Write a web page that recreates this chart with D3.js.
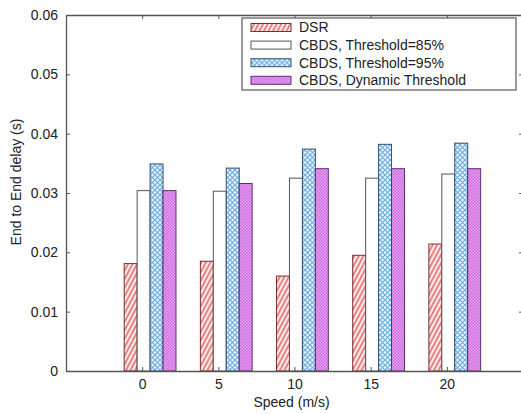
<!DOCTYPE html>
<html>
<head>
<meta charset="utf-8">
<script src="https://cdn.jsdelivr.net/npm/d3@7"></script>
<style>
  body { margin: 0; background: #fff; }
  text { font-family: "Liberation Sans", Arial, sans-serif; fill: #222; }
</style>
</head>
<body>
<div id="chart"></div>
<script>
// DATA
const speeds = [0, 5, 10, 15, 20];
const seriesNames = ["DSR", "CBDS, Threshold=85%", "CBDS, Threshold=95%", "CBDS, Dynamic Threshold"];
const dsr = [0.0181, 0.0185, 0.0160, 0.0195, 0.0214];
const cbds85 = [0.0304, 0.0303, 0.0325, 0.0325, 0.0332];
const cbds95 = [0.0349, 0.0342, 0.0374, 0.0382, 0.0384];
const cbdsDyn = [0.0304, 0.0316, 0.0341, 0.0341, 0.0341];
const yTicks = [0, 0.01, 0.02, 0.03, 0.04, 0.05, 0.06];

const allSeries = [dsr, cbds85, cbds95, cbdsDyn];

const width = 521, height = 414;
const margin = {top: 15, right: -2, bottom: 43, left: 66};

const svg = d3.select("#chart").append("svg")
    .attr("width", width)
    .attr("height", height);

// PATTERNS
const defs = svg.append("defs");

const p1 = defs.append("pattern")
    .attr("id", "hatchRed")
    .attr("patternUnits", "userSpaceOnUse")
    .attr("width", 4).attr("height", 4)
    .attr("patternTransform", "rotate(28)");
p1.append("rect").attr("width", 4).attr("height", 4).attr("fill", "#fdeeee");
p1.append("line").attr("x1", 1).attr("y1", 0).attr("x2", 1).attr("y2", 4)
    .attr("stroke", "#e46868").attr("stroke-width", 1.6);

const p2 = defs.append("pattern")
    .attr("id", "crossBlue")
    .attr("patternUnits", "userSpaceOnUse")
    .attr("width", 5).attr("height", 5);
p2.append("rect").attr("width", 5).attr("height", 5).attr("fill", "#eaf5fd");
p2.append("path").attr("d", "M0,0L5,5M5,0L0,5")
    .attr("stroke", "#6eaee2").attr("stroke-width", 1.2);

const p3 = defs.append("pattern")
    .attr("id", "checkPurple")
    .attr("patternUnits", "userSpaceOnUse")
    .attr("width", 3).attr("height", 3);
p3.append("rect").attr("width", 3).attr("height", 3).attr("fill", "#eaa8f4");
p3.append("rect").attr("width", 1.5).attr("height", 1.5).attr("fill", "#cc66e0");
p3.append("rect").attr("x", 1.5).attr("y", 1.5).attr("width", 1.5).attr("height", 1.5).attr("fill", "#cc66e0");

const fills = ["url(#hatchRed)", "#ffffff", "url(#crossBlue)", "url(#checkPurple)"];
const strokes = ["#7a2e2e", "#555555", "#34506e", "#5e2e6e"];

// SCALES
const x = d3.scaleLinear()
    .domain([-5, 25])
    .range([margin.left, width - margin.right]);

const y = d3.scaleLinear()
    .domain([0, 0.06])
    .range([height - margin.bottom, margin.top]);

// bars sit a bit right of the tick, like the original
const inner = d3.scaleBand()
    .domain(d3.range(seriesNames.length))
    .range([x(-1.18) - x(0), x(2.22) - x(0)]);

// BARS
allSeries.forEach((vals, i) => {
  svg.append("g")
    .selectAll("rect")
    .data(vals)
    .join("rect")
      .attr("x", (d, j) => x(speeds[j]) + inner(i))
      .attr("y", d => y(d))
      .attr("width", inner.bandwidth())
      .attr("height", d => y(0) - y(d))
      .attr("fill", fills[i])
      .attr("stroke", strokes[i])
      .attr("stroke-width", 1);
});

// AXES (MATLAB style box, ticks inward)
const axisColor = "#555";
const xAxis = d3.axisBottom(x).tickValues(speeds).tickSize(-4).tickPadding(8).tickSizeOuter(0);
const xTop = d3.axisTop(x).tickValues(speeds).tickSize(-4).tickFormat("").tickSizeOuter(0);
const yAxis = d3.axisLeft(y).tickValues(yTicks).tickSize(-4).tickPadding(8).tickSizeOuter(0)
    .tickFormat(d => d === 0 ? "0" : d.toFixed(2));
const yRight = d3.axisRight(y).tickValues(yTicks).tickSize(-4).tickFormat("").tickSizeOuter(0);

const gx = svg.append("g")
    .attr("transform", `translate(0,${y(0)})`)
    .call(xAxis);
const gxt = svg.append("g")
    .attr("transform", `translate(0,${y(0.06)})`)
    .call(xTop);
const gy = svg.append("g")
    .attr("transform", `translate(${x(-5)},0)`)
    .call(yAxis);
const gyr = svg.append("g")
    .attr("transform", `translate(${x(25)},0)`)
    .call(yRight);

[gx, gxt, gy, gyr].forEach(g => {
  g.select(".domain").attr("stroke", axisColor).attr("stroke-width", 1.3);
  g.selectAll(".tick line").attr("stroke", axisColor);
  g.selectAll(".tick text")
    .attr("font-size", 14)
    .attr("font-family", "Liberation Sans, Arial, sans-serif")
    .attr("fill", "#222");
});

// AXIS LABELS
svg.append("text")
    .attr("x", (x(-5) + x(25)) / 2 - 3)
    .attr("y", 407)
    .attr("text-anchor", "middle")
    .attr("font-size", 14)
    .text("Speed (m/s)");

svg.append("text")
    .attr("transform", `translate(21,182) rotate(-90)`)
    .attr("text-anchor", "middle")
    .attr("font-size", 14)
    .text("End to End delay (s)");

// LEGEND
const legend = svg.append("g").attr("transform", "translate(242,18)");
legend.append("rect")
    .attr("width", 274).attr("height", 72)
    .attr("fill", "#fff")
    .attr("stroke", "#666")
    .attr("stroke-width", 1.3);

const rows = legend.selectAll("g.row")
    .data(seriesNames)
    .join("g")
      .attr("class", "row")
      .attr("transform", (d, i) => `translate(0,${9.5 + i * 17.6})`);

rows.append("rect")
    .attr("x", 9).attr("y", -4)
    .attr("width", 40).attr("height", 8)
    .attr("fill", (d, i) => fills[i])
    .attr("stroke", (d, i) => strokes[i])
    .attr("stroke-width", 1);

rows.append("text")
    .attr("x", 57)
    .attr("dy", "0.35em")
    .attr("font-size", 14)
    .text(d => d);
</script>
</body>
</html>
